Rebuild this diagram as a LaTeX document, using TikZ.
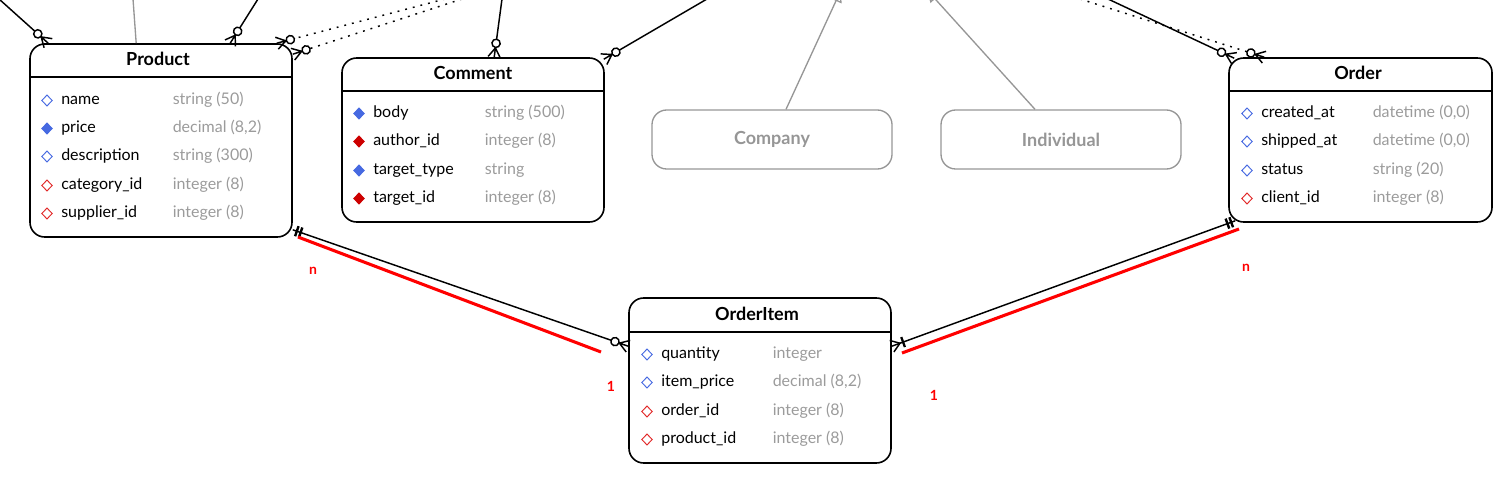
\documentclass[tikz,border=0pt]{standalone}
\usepackage{fontspec}
\setmainfont{Lato}
\usetikzlibrary{arrows.meta,shapes.geometric,calc}

\definecolor{keyBlue}{RGB}{70,105,225}
\definecolor{fkRed}{RGB}{205,0,0}
\definecolor{fkRedOpen}{RGB}{225,40,40}
\definecolor{typeGray}{RGB}{155,155,155}
\definecolor{genGray}{RGB}{150,150,150}

% zero or many: circle + crow's foot
\pgfdeclarearrow{
  name = ErZM,
  setup code = {
    \pgfarrowssettipend{0pt}
    \pgfarrowssetlineend{-13.6pt}
    \pgfarrowssetbackend{-13.6pt}
    \pgfarrowshullpoint{0pt}{4.8pt}
    \pgfarrowshullpoint{0pt}{-4.8pt}
    \pgfarrowshullpoint{-13.6pt}{0pt}
  },
  drawing code = {
    \pgfsetdash{}{0pt}
    \pgfsetmiterjoin
    \pgfpathmoveto{\pgfqpoint{0pt}{4.6pt}}
    \pgfpathlineto{\pgfqpoint{-7pt}{0pt}}
    \pgfpathlineto{\pgfqpoint{0pt}{-4.6pt}}
    \pgfpathmoveto{\pgfqpoint{0pt}{0pt}}
    \pgfpathlineto{\pgfqpoint{-7.4pt}{0pt}}
    \pgfpathcircle{\pgfqpoint{-10.5pt}{0pt}}{3.1pt}
    \pgfusepathqstroke
  }
}
% one and only one: double bar
\pgfdeclarearrow{
  name = ErOne,
  setup code = {
    \pgfarrowssettipend{0pt}
    \pgfarrowssetlineend{0pt}
    \pgfarrowssetbackend{-7pt}
    \pgfarrowshullpoint{0pt}{4pt}
    \pgfarrowshullpoint{0pt}{-4pt}
    \pgfarrowshullpoint{-7pt}{4pt}
    \pgfarrowshullpoint{-7pt}{-4pt}
  },
  drawing code = {
    \pgfsetdash{}{0pt}
    \pgfsetlinewidth{1.8pt}
    \pgfpathmoveto{\pgfqpoint{-3.2pt}{4pt}}
    \pgfpathlineto{\pgfqpoint{-3.2pt}{-4pt}}
    \pgfpathmoveto{\pgfqpoint{-6.2pt}{4pt}}
    \pgfpathlineto{\pgfqpoint{-6.2pt}{-4pt}}
    \pgfusepathqstroke
  }
}
% one or many: bar + crow's foot
\pgfdeclarearrow{
  name = ErOM,
  setup code = {
    \pgfarrowssettipend{0pt}
    \pgfarrowssetlineend{0pt}
    \pgfarrowssetbackend{-9pt}
    \pgfarrowshullpoint{0pt}{4.8pt}
    \pgfarrowshullpoint{0pt}{-4.8pt}
    \pgfarrowshullpoint{-9pt}{4.5pt}
    \pgfarrowshullpoint{-9pt}{-4.5pt}
  },
  drawing code = {
    \pgfsetdash{}{0pt}
    \pgfsetmiterjoin
    \pgfpathmoveto{\pgfqpoint{0pt}{4.6pt}}
    \pgfpathlineto{\pgfqpoint{-6.5pt}{0pt}}
    \pgfpathlineto{\pgfqpoint{0pt}{-4.6pt}}
    \pgfusepathqstroke
    \pgfsetlinewidth{1.7pt}
    \pgfpathmoveto{\pgfqpoint{-9pt}{4pt}}
    \pgfpathlineto{\pgfqpoint{-9pt}{-4pt}}
    \pgfusepathqstroke
  }
}

\tikzset{
  entity/.style={draw, line width=1.2pt, rounded corners=11pt, inner sep=0pt},
  gentity/.style={draw=genGray, line width=1pt, rounded corners=11pt, inner sep=0pt,
    font=\bfseries\fontsize{13.5}{15}\selectfont, text=genGray},
  etitle/.style={font=\bfseries\fontsize{13.5}{15}\selectfont, inner sep=0pt},
  hline/.style={line width=1.2pt},
  fname/.style={anchor=west, inner sep=0pt, text height=8pt, text depth=2.5pt,
    font=\fontsize{12}{14}\selectfont},
  ftype/.style={fname, text=typeGray},
  dia/.style={diamond, inner sep=0pt, minimum width=8pt, minimum height=8.5pt, line width=0.7pt},
  dopen/.style={dia, draw=keyBlue, fill=white},
  dfill/.style={dia, draw=keyBlue, fill=keyBlue},
  dfkopen/.style={dia, draw=fkRedOpen, fill=white},
  dfkfill/.style={dia, draw=fkRed, fill=fkRed},
  rel/.style={line width=1.1pt},
  optrel/.style={rel, dash pattern=on 1.4pt off 4.5pt},
  gen/.style={draw=genGray, line width=1pt},
  genarrow/.style={gen, -{Triangle[open, length=9pt, width=9pt]}},
  redline/.style={draw=red, line width=2.3pt},
  card/.style={text=red, font=\bfseries\fontsize{10.5}{12}\selectfont, inner sep=0pt},
}

\newcommand\fieldrow[6]{%
  \node[#4] (#1d) at (#2,#3+1.5) {};
  \node[fname] (#1n) at (#2+14,#3+1.5) {#5};
  \node[ftype] (#1t) at (#2+125.5,#3+1.5) {#6};
}

\begin{document}
\begin{tikzpicture}[x=0.75pt,y=-0.75pt]
\useasboundingbox (0,0) rectangle (1512,495);
\clip (0,0) rectangle (1512,495);

% ---------- entities ----------
\node[entity, minimum width=262*0.75pt, minimum height=193*0.75pt] (prod) at (161,140.5) {};
\node[etitle] (prodT) at (158,58.5) {Product};
\draw[hline] ($(prod.north west)+(0,34)$) -- ($(prod.north east)+(0,34)$);
\fieldrow{p1}{47}{99}{dopen}{name}{string (50)}
\fieldrow{p2}{47}{127}{dfill}{price}{decimal (8,2)}
\fieldrow{p3}{47}{155}{dopen}{description}{string (300)}
\fieldrow{p4}{47}{184}{dfkopen}{category\_id}{integer (8)}
\fieldrow{p5}{47}{212}{dfkopen}{supplier\_id}{integer (8)}

\node[entity, minimum width=262*0.75pt, minimum height=164*0.75pt] (comm) at (473,140) {};
\node[etitle] (commT) at (473,72.5) {Comment};
\draw[hline] ($(comm.north west)+(0,34)$) -- ($(comm.north east)+(0,34)$);
\fieldrow{c1}{359}{112}{dfill}{body}{string (500)}
\fieldrow{c2}{359}{140}{dfkfill}{author\_id}{integer (8)}
\fieldrow{c3}{359}{169}{dfill}{target\_type}{string}
\fieldrow{c4}{359}{197}{dfkfill}{target\_id}{integer (8)}

\node[gentity, minimum width=240*0.75pt, minimum height=59*0.75pt] (comp) at (772,139.5) {Company};
\node[gentity, minimum width=240*0.75pt, minimum height=59*0.75pt] (indiv) at (1061,139.5) {Individual};

\node[entity, minimum width=263*0.75pt, minimum height=164*0.75pt] (ord) at (1360.5,140) {};
\node[etitle] (ordT) at (1358,72.5) {Order};
\draw[hline] ($(ord.north west)+(0,34)$) -- ($(ord.north east)+(0,34)$);
\fieldrow{o1}{1247}{112}{dopen}{created\_at}{datetime (0,0)}
\fieldrow{o2}{1247}{140}{dopen}{shipped\_at}{datetime (0,0)}
\fieldrow{o3}{1247}{169}{dopen}{status}{string (20)}
\fieldrow{o4}{1247}{197}{dfkopen}{client\_id}{integer (8)}

\node[entity, minimum width=262*0.75pt, minimum height=165*0.75pt] (oitem) at (760,380.5) {};
\node[etitle] (oitemT) at (757,313.5) {OrderItem};
\draw[hline] ($(oitem.north west)+(0,35)$) -- ($(oitem.north east)+(0,35)$);
\fieldrow{i1}{647}{353}{dopen}{quantity}{integer}
\fieldrow{i2}{647}{381}{dopen}{item\_price}{decimal (8,2)}
\fieldrow{i3}{647}{410}{dfkopen}{order\_id}{integer (8)}
\fieldrow{i4}{647}{438}{dfkopen}{product\_id}{integer (8)}

% ---------- free ends off the picture ----------
\coordinate (e1) at (-1,-1);
\coordinate (e2) at (133,-1);
\coordinate (e3) at (258,-1);
\coordinate (e4) at (445,-1);
\coordinate (e5) at (462,-1);
\coordinate (e6) at (502,-1);
\coordinate (e7) at (707,-1);
\coordinate (e8) at (841,-10);
\coordinate (e9) at (927,-10);
\coordinate (e10) at (1108,-1);
\coordinate (e11) at (1080,-1);

% ---------- connectors at the top ----------
\draw[rel, -{ErZM}] (e1) -- ($(prod.north west)+(19,0)$);
\draw[gen] (e2) -- ($(prod.north west)+(107,0)$);
\draw[rel, -{ErZM}] (e3) -- ($(prod.north west)+(201,0)$);
\draw[optrel, -{ErZM}] (e4) -- ($(prod.north east)+(-16,0)$);
\draw[optrel, -{ErZM}] (e5) -- ($(prod.north east)+(0,11)$);
\draw[rel, -{ErZM}] (e6) -- ($(comm.north west)+(153,0)$);
\draw[rel, -{ErZM}] (e7) -- ($(comm.north east)+(-1,2)$);
\draw[genarrow] ($(comp.north)+(14,0)$) -- (e8);
\draw[genarrow] ($(indiv.north)+(-26,0)$) -- (e9);
\draw[rel, -{ErZM}] (e10) -- ($(ord.north west)+(6,1)$);
\draw[optrel, -{ErZM}] (e11) -- ($(ord.north west)+(36,0)$);

% ---------- relationships to OrderItem ----------
\draw[rel, {ErOne}-{ErZM}] ($(prod.south east)+(0,-8)$) -- ($(oitem.north west)+(0,49)$);
\draw[rel, {ErOM}-{ErOne}] ($(oitem.north east)+(0,49)$) -- ($(ord.south west)+(7,-2)$);

% ---------- red annotations ----------
\coordinate (ra1) at (298,237);
\coordinate (ra2) at (601,352);
\coordinate (rb1) at (902,353);
\coordinate (rb2) at (1239,229);
\draw[redline] (ra1) -- (ra2);
\draw[redline] (rb1) -- (rb2);
\node[card] (n1) at (313,271) {n};
\node[card] (one1) at (611,386) {1};
\node[card] (one2) at (934,395) {1};
\node[card] (n2) at (1246,268) {n};
\end{tikzpicture}
\end{document}
